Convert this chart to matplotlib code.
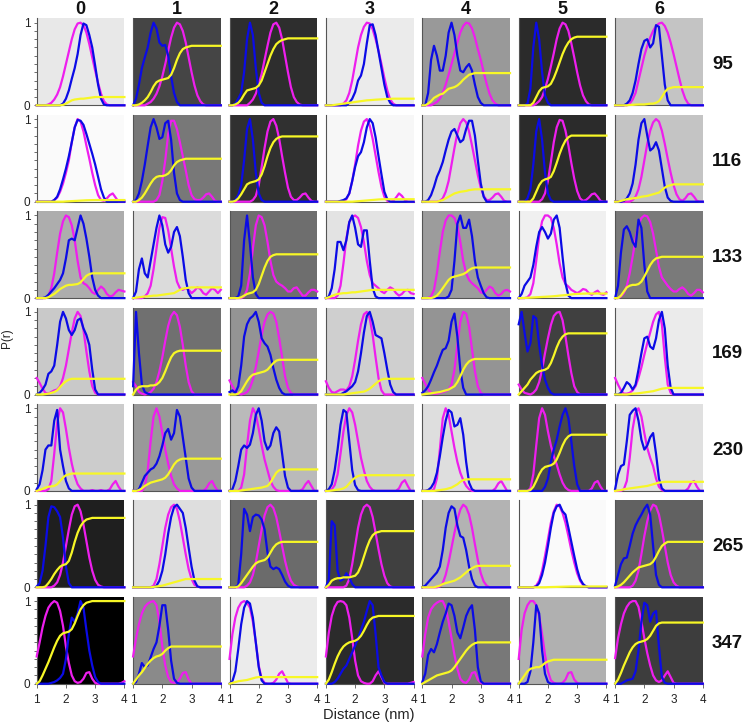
import matplotlib
matplotlib.use("Agg")
import matplotlib.pyplot as plt
from matplotlib.ticker import MultipleLocator

plt.rcParams['font.family'] = ['Liberation Sans', 'DejaVu Sans']

# ---------------- data ----------------
DIST = [1.0, 1.1, 1.2, 1.3, 1.4, 1.5, 1.6, 1.7, 1.8, 1.9, 2.0, 2.1, 2.2, 2.3, 2.4, 2.5,
        2.6, 2.7, 2.8, 2.9, 3.0, 3.1, 3.2, 3.3, 3.4, 3.5, 3.6, 3.7, 3.8, 3.9, 4.0]
COL_LABELS = ['0', '1', '2', '3', '4', '5', '6']
ROW_LABELS = ['95', '116', '133', '169', '230', '265', '347']
X_TICKS = [1, 2, 3, 4]
Y_TICKS = [0, 1]

BG_GRAY = [
    [0.91, 0.27, 0.18, 0.92, 0.60, 0.17, 0.77],
    [0.98, 0.47, 0.19, 0.97, 0.85, 0.17, 0.77],
    [0.68, 0.86, 0.43, 0.89, 0.61, 0.94, 0.48],
    [0.79, 0.44, 0.58, 0.81, 0.58, 0.25, 0.92],
    [0.80, 0.60, 0.73, 0.80, 0.87, 0.29, 0.88],
    [0.12, 0.87, 0.42, 0.25, 0.70, 0.98, 0.38],
    [0.00, 0.54, 0.92, 0.17, 0.47, 0.69, 0.24],
]

# ---- row 95 ----
MAG_95 = [
    [0,0,0,0,.01,.03,.07,.13,.22,.35,.5,.65,.8,.92,.99,1,.97,.88,.74,.58,.42,.27,.14,.05,.01,0,0,0,0,0,0],
    [0,0,0,0,0,.02,.04,.08,.14,.23,.35,.5,.66,.82,.94,1,.98,.9,.76,.58,.4,.24,.12,.05,.01,0,0,0,0,0,0],
    [0,0,0,0,0,0,0,.03,.07,.14,.25,.38,.55,.72,.88,.98,1,.94,.8,.6,.4,.22,.1,.04,.01,0,0,0,0,0,0],
    [0,0,0,0,0,0,.02,.06,.15,.3,.5,.7,.85,.95,1,.99,.92,.8,.66,.5,.33,.18,.07,.02,0,0,0,0,0,0,0],
    [0,0,0,0,.02,.04,.08,.15,.25,.37,.5,.63,.76,.88,.96,1,.99,.93,.82,.68,.55,.4,.26,.14,.06,.02,0,0,0,0,0],
    [0,0,0,0,0,0,.02,.05,.1,.2,.32,.47,.63,.8,.93,1,.98,.9,.75,.58,.4,.24,.12,.05,.01,0,0,0,0,0,0],
    [0,0,0,0,0,.02,.07,.15,.3,.45,.6,.72,.82,.9,.96,.99,1,.96,.88,.76,.62,.47,.32,.18,.08,.02,0,0,0,0,0],
]
BLUE_95 = [
    [0,0,0,0,0,0,0,0,0,.02,.08,.18,.32,.45,.62,.85,.99,.97,.85,.7,.48,.25,.08,.01,0,0,0,0,0,0,0],
    [0,.08,.25,.45,.58,.7,.88,1,.93,.76,.72,.73,.6,.35,.15,.04,0,0,0,0,0,0,0,0,0,0,0,0,0,0,0],
    [0,0,.02,.08,.15,.4,.8,1,.85,.45,.15,.03,0,0,0,0,0,0,0,0,0,0,0,0,0,0,0,0,0,0,0],
    [0,0,0,0,0,0,0,0,.03,.08,.16,.3,.36,.5,.75,.97,.98,.85,.65,.45,.25,.1,.03,0,0,0,0,0,0,0,0],
    [0,0,.15,.55,.72,.6,.42,.42,.6,.88,1,.85,.6,.42,.4,.46,.5,.42,.25,.1,.03,0,0,0,0,0,0,0,0,0,0],
    [0,0,0,.02,.2,.7,1,.8,.4,.12,.03,0,0,0,0,0,0,0,0,0,0,0,0,0,0,0,0,0,0,0,0],
    [0,0,0,0,.02,.06,.15,.3,.5,.68,.78,.8,.7,.75,.97,.95,.6,.25,.06,0,0,0,0,0,0,0,0,0,0,0,0],
]
YEL_95 = [
    [0,0,0,0,0,0,0,0,0,.005,.02,.04,.06,.07,.075,.08,.08,.085,.09,.095,.1,.1,.1,.1,.1,.1,.1,.1,.1,.1,.1],
    [0,0,.01,.03,.06,.1,.16,.23,.28,.3,.31,.32,.33,.37,.45,.55,.63,.68,.7,.71,.72,.72,.72,.72,.72,.72,.72,.72,.72,.72,.72],
    [0,0,.01,.03,.07,.13,.18,.19,.2,.21,.24,.3,.4,.5,.6,.68,.74,.77,.79,.8,.81,.81,.81,.81,.81,.81,.81,.81,.81,.81,.81],
    [0,0,0,.005,.01,.015,.02,.025,.03,.035,.04,.045,.05,.055,.06,.062,.065,.068,.07,.072,.075,.077,.078,.08,.08,.08,.08,.08,.08,.08,.08],
    [0,0,.02,.05,.09,.11,.13,.14,.17,.2,.21,.22,.24,.27,.31,.34,.37,.38,.39,.39,.39,.39,.39,.39,.39,.39,.39,.39,.39,.39,.39],
    [0,0,0,0,0,.03,.1,.17,.21,.22,.23,.26,.33,.42,.52,.62,.7,.76,.8,.82,.83,.83,.83,.83,.83,.83,.83,.83,.83,.83,.83],
    [0,0,0,0,0,.005,.005,.008,.01,.01,.01,.015,.02,.02,.03,.05,.1,.16,.2,.21,.22,.22,.22,.22,.22,.22,.22,.22,.22,.22,.22],
]

# ---- row 116 ----
MAG_116 = [
    [0,0,0,0,0,0,.02,.05,.12,.22,.35,.5,.72,.9,1,.97,.85,.68,.52,.35,.2,.08,.02,.01,.04,.08,.1,.05,0,0,0],
    [0,0,0,0,0,0,0,0,.02,.08,.25,.5,.82,.98,.98,.88,.72,.55,.38,.2,.08,.03,.02,.02,.05,.09,.1,.06,.01,0,0],
    [0,0,0,0,0,0,0,0,.02,.07,.2,.42,.65,.85,.97,1,.92,.76,.55,.35,.17,.06,.02,.02,.05,.09,.1,.05,.01,0,0],
    [0,0,0,0,0,0,0,.03,.1,.25,.45,.68,.86,.97,1,.92,.76,.56,.36,.18,.06,.01,0,.01,.05,.1,.07,.02,0,0,0],
    [0,0,0,0,0,0,.01,.04,.12,.25,.45,.65,.83,.95,1,.96,.85,.68,.5,.32,.17,.07,.02,.02,.05,.09,.1,.06,.01,0,0],
    [0,0,0,0,0,0,0,0,.03,.1,.25,.48,.72,.9,.99,.98,.86,.68,.47,.28,.13,.04,.01,.02,.05,.09,.1,.06,.01,0,0],
    [0,0,0,0,0,0,.02,.06,.15,.3,.5,.7,.86,.96,1,.97,.86,.7,.52,.35,.2,.09,.03,.01,.04,.09,.1,.06,.01,0,0],
]
BLUE_116 = [
    [0,0,0,0,0,0,.02,.06,.15,.27,.4,.55,.72,.9,.99,.98,.93,.82,.7,.58,.45,.3,.15,.05,0,0,0,0,0,0,0],
    [0,.02,.1,.25,.45,.68,.9,1,.9,.76,.78,.95,.98,.75,.35,.1,.02,0,0,0,0,0,0,0,0,0,0,0,0,0,0],
    [0,0,.02,.08,.2,.5,.88,1,.75,.35,.1,.02,0,0,0,0,0,0,0,0,0,0,0,0,0,0,0,0,0,0,0],
    [0,0,0,0,0,.01,.02,.04,.1,.25,.42,.55,.6,.72,.9,1,.95,.78,.55,.33,.12,.03,0,0,0,0,0,0,0,0,0],
    [0,0,.02,.08,.18,.3,.38,.48,.62,.75,.85,.88,.8,.72,.75,.88,.98,.98,.8,.5,.22,.06,0,0,0,0,0,0,0,0,0],
    [0,0,0,.04,.15,.45,.85,1,.75,.35,.1,.02,0,0,0,0,0,0,0,0,0,0,0,0,0,0,0,0,0,0,0],
    [0,0,0,.01,.04,.1,.22,.45,.75,.95,1,.8,.62,.65,.72,.62,.4,.18,.05,.01,0,0,0,0,0,0,0,0,0,0,0],
]
YEL_116 = [
    [0,0,0,0,0,0,0,0,0,0,.003,.005,.007,.009,.011,.013,.015,.017,.018,.019,.02,.02,.02,.02,.02,.02,.02,.02,.02,.02,.02],
    [0,0,.02,.05,.1,.16,.22,.27,.3,.31,.31,.32,.34,.38,.44,.48,.5,.51,.52,.52,.52,.52,.52,.52,.52,.52,.52,.52,.52,.52,.52],
    [0,0,.01,.04,.09,.15,.21,.23,.24,.25,.27,.33,.43,.55,.65,.72,.76,.78,.79,.79,.79,.79,.79,.79,.79,.79,.79,.79,.79,.79,.79],
    [0,0,0,0,0,0,0,0,0,0,.003,.006,.009,.012,.015,.018,.021,.024,.027,.029,.03,.03,.03,.03,.03,.03,.03,.03,.03,.03,.03],
    [0,0,0,0,0,0,.01,.02,.04,.06,.08,.1,.11,.12,.125,.13,.14,.145,.15,.15,.15,.15,.15,.15,.15,.15,.15,.15,.15,.15,.15],
    [0,0,0,0,0,.04,.12,.2,.25,.27,.28,.3,.37,.47,.58,.67,.74,.78,.8,.8,.8,.8,.8,.8,.8,.8,.8,.8,.8,.8,.8],
    [0,0,.01,.02,.03,.035,.04,.045,.05,.06,.065,.07,.08,.09,.1,.11,.14,.17,.19,.2,.21,.21,.21,.21,.21,.21,.21,.21,.21,.21,.21],
]

# ---- row 133 ----
MAG_133 = [
    [0,0,0,0,.03,.12,.3,.55,.78,.93,1,.98,.88,.7,.45,.25,.18,.16,.12,.07,.05,.1,.14,.11,.05,.02,.03,.07,.1,.09,.08],
    [0,0,0,0,.02,.06,.15,.35,.6,.85,.98,.97,.82,.6,.38,.2,.12,.1,.12,.1,.06,.09,.13,.11,.06,.04,.08,.12,.1,.06,.1],
    [0,0,0,0,0,.02,.1,.3,.6,.88,1,.98,.88,.68,.45,.28,.2,.17,.15,.12,.08,.08,.12,.13,.08,.03,.03,.07,.1,.1,.08],
    [0,0,0,0,.03,.15,.42,.72,.92,.98,1,.97,.86,.68,.45,.28,.18,.15,.12,.08,.06,.1,.13,.11,.06,.03,.05,.09,.1,.06,.05],
    [0,0,0,.02,.1,.3,.56,.8,.94,1,1,.97,.87,.68,.45,.3,.22,.18,.15,.12,.07,.06,.1,.14,.12,.06,.03,.05,.09,.1,.08],
    [0,0,0,.01,.05,.18,.45,.75,.93,1,1,.97,.85,.65,.42,.25,.17,.14,.1,.08,.06,.08,.11,.1,.06,.04,.07,.09,.05,.04,.07],
    [0,0,.02,.06,.15,.3,.5,.72,.88,.97,1,.99,.92,.78,.58,.38,.25,.2,.15,.11,.08,.08,.11,.13,.1,.05,.03,.06,.1,.1,.07],
]
BLUE_133 = [
    [0,0,0,.01,.04,.08,.12,.17,.22,.3,.48,.7,.72,.7,.85,1,.9,.72,.5,.25,.1,.03,0,0,0,0,0,0,0,0,0],
    [0,.08,.35,.48,.3,.25,.45,.65,.85,1,.88,.65,.55,.62,.8,.86,.75,.5,.22,.06,0,0,0,0,0,0,0,0,0,0,0],
    [0,0,0,.02,.15,.7,1,.65,.25,.05,0,0,0,0,0,0,0,0,0,0,0,0,0,0,0,0,0,0,0,0,0],
    [0,.02,.12,.35,.68,.68,.58,.7,.92,1,.85,.65,.62,.82,.82,.45,.12,.02,0,0,0,0,0,0,0,0,0,0,0,0,0],
    [0,0,0,0,0,0,0,0,0,.02,.1,.45,.9,1,.85,.85,.95,.75,.45,.25,.15,.06,.01,0,0,0,0,0,0,0,0],
    [0,.05,.15,.2,.25,.4,.62,.8,.86,.8,.72,.78,.95,1,.85,.5,.18,.03,0,0,0,0,0,0,0,0,0,0,0,0,0],
    [0,.15,.55,.83,.87,.8,.68,.62,.95,.85,.4,.08,0,0,0,0,0,0,0,0,0,0,0,0,0,0,0,0,0,0,0],
]
YEL_133 = [
    [0,0,0,0,.01,.03,.05,.08,.11,.13,.15,.16,.16,.165,.17,.19,.23,.27,.29,.3,.3,.3,.3,.3,.3,.3,.3,.3,.3,.3,.3],
    [0,.005,.01,.015,.02,.02,.025,.03,.03,.035,.04,.045,.05,.055,.06,.08,.1,.115,.12,.125,.13,.13,.13,.13,.13,.13,.13,.13,.13,.13,.13],
    [0,0,0,0,.01,.03,.05,.06,.07,.1,.17,.27,.37,.45,.5,.52,.53,.53,.53,.53,.53,.53,.53,.53,.53,.53,.53,.53,.53,.53,.53],
    [0,.01,.025,.04,.05,.055,.06,.06,.065,.07,.07,.075,.08,.085,.09,.095,.1,.1,.1,.1,.1,.1,.1,.1,.1,.1,.1,.1,.1,.1,.1],
    [0,0,0,0,.01,.03,.07,.12,.17,.22,.25,.26,.27,.28,.29,.31,.34,.36,.37,.37,.37,.37,.37,.37,.37,.37,.37,.37,.37,.37,.37],
    [0,0,.002,.004,.006,.008,.01,.012,.014,.016,.018,.02,.023,.026,.03,.033,.036,.04,.044,.048,.05,.052,.054,.055,.055,.055,.055,.055,.055,.055,.055],
    [0,0,.03,.08,.13,.15,.16,.16,.17,.2,.26,.33,.4,.45,.48,.49,.5,.5,.5,.5,.5,.5,.5,.5,.5,.5,.5,.5,.5,.5,.5],
]

# ---- row 169 ----
MAG_169 = [
    [.2,.14,.07,.02,.01,.03,.05,.06,.1,.2,.35,.55,.75,.92,1,.95,.78,.52,.28,.1,.02,0,0,0,0,0,0,0,0,0,0],
    [.15,.1,.03,.01,0,.01,.03,.07,.15,.28,.45,.65,.83,.95,1,.96,.82,.6,.35,.15,.04,0,0,0,0,0,0,0,0,0,0],
    [.17,.1,.04,.01,0,.01,.03,.08,.18,.33,.52,.72,.88,.97,1,.98,.88,.68,.45,.22,.08,.02,0,0,0,0,0,0,0,0,0],
    [.16,.08,.03,.02,.04,.06,.06,.05,.1,.22,.42,.65,.85,.97,1,.92,.72,.45,.2,.05,0,0,0,0,0,0,0,0,0,0,0],
    [.2,.13,.06,.02,.01,.01,.02,.03,.04,.06,.12,.3,.6,.88,1,.98,.82,.55,.28,.1,.02,0,0,0,0,0,0,0,0,0,0],
    [.12,.06,.02,.01,0,.02,.06,.15,.3,.5,.68,.84,.95,.99,1,.9,.7,.47,.26,.1,.03,0,0,0,0,0,0,0,0,0,0],
    [.2,.12,.05,.01,.01,.02,.05,.1,.2,.33,.48,.62,.75,.88,.97,1,.85,.45,.12,.02,0,0,0,0,0,0,0,0,0,0,0],
]
BLUE_169 = [
    [0,.02,.06,.12,.25,.28,.35,.6,.88,1,.92,.78,.72,.78,.9,.92,.8,.72,.6,.3,.06,0,0,0,0,0,0,0,0,0,0],
    [.1,1,.5,.12,.03,.01,0,0,0,0,0,0,0,0,0,0,0,0,0,0,0,0,0,0,0,0,0,0,0,0,0],
    [.03,.05,.02,.1,.35,.7,.85,.92,.95,1,.88,.68,.62,.58,.48,.32,.18,.08,.02,0,0,0,0,0,0,0,0,0,0,0,0],
    [0,0,0,0,0,0,.02,.04,.07,.1,.15,.28,.5,.75,.95,1,.88,.72,.7,.68,.5,.3,.12,.03,0,0,0,0,0,0,0],
    [.02,.05,.1,.18,.27,.35,.45,.54,.56,.65,.88,.98,.7,.3,.08,0,0,0,0,0,0,0,0,0,0,0,0,0,0,0,0],
    [.85,1,.75,.52,.62,.95,.92,.6,.35,.18,.08,.02,0,0,0,0,0,0,0,0,0,0,0,0,0,0,0,0,0,0,0],
    [0,0,.02,.08,.15,.12,.06,.12,.3,.5,.68,.7,.58,.55,.68,.9,1,.8,.35,.08,0,0,0,0,0,0,0,0,0,0,0],
]
YEL_169 = [
    [0,0,0,.005,.01,.02,.03,.05,.09,.13,.16,.18,.19,.19,.19,.19,.19,.19,.19,.19,.19,.19,.19,.19,.19,.19,.19,.19,.19,.19,.19],
    [0,.06,.09,.1,.1,.1,.11,.11,.12,.15,.2,.28,.37,.45,.5,.52,.53,.53,.53,.53,.53,.53,.53,.53,.53,.53,.53,.53,.53,.53,.53],
    [0,0,0,.01,.04,.1,.16,.21,.24,.25,.26,.27,.28,.3,.34,.38,.41,.42,.42,.42,.42,.42,.42,.42,.42,.42,.42,.42,.42,.42,.42],
    [0,0,0,0,0,0,0,.005,.01,.015,.02,.025,.03,.035,.05,.07,.1,.13,.16,.18,.19,.19,.19,.19,.19,.19,.19,.19,.19,.19,.19],
    [0,.005,.01,.015,.02,.025,.03,.04,.05,.06,.08,.1,.15,.22,.3,.36,.4,.42,.43,.43,.43,.43,.43,.43,.43,.43,.43,.43,.43,.43,.43],
    [0,.04,.08,.12,.18,.22,.26,.28,.29,.3,.32,.38,.47,.57,.65,.7,.73,.74,.74,.74,.74,.74,.74,.74,.74,.74,.74,.74,.74,.74,.74],
    [0,0,0,0,0,.005,.01,.012,.015,.02,.025,.03,.035,.04,.05,.06,.07,.075,.08,.08,.08,.08,.08,.08,.08,.08,.08,.08,.08,.08,.08],
]

# ---- row 230 ----
MAG_230 = [
    [0,0,0,0,.02,.12,.45,.82,1,.95,.75,.52,.33,.18,.08,.03,0,0,0,.01,0,0,.01,0,0,.02,.08,.12,.05,0,0],
    [0,0,0,0,.05,.25,.6,.9,1,.9,.7,.5,.33,.18,.08,.03,0,0,0,0,0,0,0,0,0,.03,.09,.12,.05,0,0],
    [0,0,0,0,.04,.2,.55,.85,1,.93,.75,.55,.38,.25,.12,.05,.01,0,0,0,0,0,0,0,0,.02,.08,.12,.06,0,0],
    [0,0,.02,.07,.2,.45,.72,.92,1,.95,.8,.6,.4,.25,.12,.05,.01,0,0,0,0,0,0,0,0,.03,.1,.13,.06,0,0],
    [0,0,0,0,.02,.15,.5,.88,1,.92,.72,.52,.35,.22,.13,.06,.02,0,0,0,0,0,0,0,0,.03,.09,.12,.06,0,0],
    [0,0,0,0,.03,.2,.55,.88,1,.92,.72,.55,.42,.32,.2,.1,.04,.01,0,0,0,0,0,0,0,.03,.1,.12,.05,0,0],
    [0,0,0,.02,.12,.4,.75,.95,1,.9,.7,.52,.4,.3,.15,.05,.01,0,0,0,0,0,0,0,0,.03,.1,.12,.05,0,0],
]
BLUE_230 = [
    [.02,.08,.25,.5,.55,.55,.85,.98,.5,.3,.12,.03,0,0,0,0,0,0,0,0,0,0,0,0,0,0,0,0,0,0,0],
    [0,0,.02,.1,.18,.22,.26,.28,.33,.42,.55,.7,.75,.62,.7,.98,.9,.65,.4,.15,.04,0,0,0,0,0,0,0,0,0,0],
    [0,.02,.12,.3,.5,.55,.52,.56,.7,.92,1,.85,.6,.5,.55,.7,.77,.72,.45,.18,.04,0,0,0,0,0,0,0,0,0,0],
    [0,.02,.08,.25,.5,.8,.98,.95,.6,.25,.07,.01,0,0,0,0,0,0,0,0,0,0,0,0,0,0,0,0,0,0,0],
    [0,0,.01,.04,.1,.22,.42,.65,.85,.98,.95,.78,.8,.88,.68,.35,.1,.02,0,0,0,0,0,0,0,0,0,0,0,0,0],
    [0,0,0,0,0,0,0,0,0,.05,.15,.35,.5,.62,.78,.92,1,.88,.6,.3,.08,0,0,0,0,0,0,0,0,0,0],
    [.02,.2,.3,.32,.6,.92,.97,1,.85,.62,.5,.55,.65,.7,.45,.15,.03,0,0,0,0,0,0,0,0,0,0,0,0,0,0],
]
YEL_230 = [
    [0,.01,.025,.04,.05,.055,.06,.08,.12,.16,.19,.2,.21,.21,.21,.21,.21,.21,.21,.21,.21,.21,.21,.21,.21,.21,.21,.21,.21,.21,.21],
    [0,0,.01,.03,.06,.08,.1,.11,.12,.13,.14,.16,.2,.26,.32,.36,.38,.39,.39,.39,.39,.39,.39,.39,.39,.39,.39,.39,.39,.39,.39],
    [0,0,0,0,.005,.01,.015,.02,.025,.03,.035,.04,.05,.06,.1,.16,.22,.25,.26,.26,.26,.26,.26,.26,.26,.26,.26,.26,.26,.26,.26],
    [0,0,.005,.01,.015,.02,.03,.05,.09,.13,.16,.18,.19,.19,.19,.19,.19,.19,.19,.19,.19,.19,.19,.19,.19,.19,.19,.19,.19,.19,.19],
    [0,0,0,0,0,.005,.01,.015,.02,.03,.04,.06,.08,.11,.13,.14,.14,.14,.14,.14,.14,.14,.14,.14,.14,.14,.14,.14,.14,.14,.14],
    [0,0,0,0,.01,.05,.12,.2,.26,.29,.3,.31,.33,.38,.46,.55,.62,.66,.68,.68,.68,.68,.68,.68,.68,.68,.68,.68,.68,.68,.68],
    [0,.005,.01,.02,.025,.03,.035,.04,.045,.05,.055,.06,.07,.08,.09,.1,.105,.11,.11,.11,.11,.11,.11,.11,.11,.11,.11,.11,.11,.11,.11],
]

# ---- row 265 ----
MAG_265 = [
    [0,0,0,0,0,0,.02,.06,.15,.3,.5,.7,.88,.98,1,.92,.76,.56,.36,.2,.09,.03,.01,0,0,0,0,0,0,0,0],
    [0,0,0,0,0,0,0,.02,.1,.28,.5,.72,.88,.97,1,.95,.8,.6,.4,.22,.1,.03,.01,0,0,0,0,0,0,0,0],
    [0,0,0,0,0,0,.02,.06,.15,.3,.5,.7,.87,.97,1,.96,.85,.68,.5,.32,.18,.08,.03,.01,0,0,0,0,0,0,0],
    [0,0,0,0,0,0,0,.02,.1,.28,.5,.72,.88,.97,1,.97,.85,.66,.46,.28,.14,.05,.01,0,0,0,0,0,0,0,0],
    [0,0,0,0,0,0,.01,.05,.15,.3,.48,.66,.82,.94,1,.97,.88,.72,.52,.33,.17,.07,.02,0,0,0,0,0,0,0,0],
    [0,0,0,0,0,0,.02,.08,.2,.38,.58,.78,.92,1,.98,.9,.78,.62,.45,.3,.17,.08,.03,.01,0,0,0,0,0,0,0],
    [0,0,0,0,0,0,.02,.08,.2,.4,.62,.8,.93,1,.98,.88,.7,.5,.3,.15,.06,.02,0,0,0,0,0,0,0,0,0],
]
BLUE_265 = [
    [.01,.05,.2,.5,.85,.98,.97,.92,.85,.6,.25,.05,0,0,0,0,0,0,0,0,0,0,0,0,0,0,0,0,0,0,0],
    [0,0,0,0,0,0,0,0,.02,.08,.2,.4,.65,.85,.97,1,.95,.9,.72,.48,.25,.08,.01,0,0,0,0,0,0,0,0],
    [0,0,0,.03,.4,.95,.88,.68,.85,.88,.87,.82,.7,.42,.25,.22,.24,.22,.15,.07,.02,0,0,0,0,0,0,0,0,0,0],
    [0,.1,.8,.75,.2,.08,.1,.17,.12,.04,0,0,0,0,0,0,0,0,0,0,0,0,0,0,0,0,0,0,0,0,0],
    [0,.02,.06,.1,.14,.18,.25,.45,.72,.9,.98,.95,.75,.62,.6,.45,.25,.1,.02,0,0,0,0,0,0,0,0,0,0,0,0],
    [0,0,0,0,0,0,.01,.05,.15,.3,.5,.72,.9,.98,1,.92,.88,.72,.55,.38,.22,.1,.04,.01,0,0,0,0,0,0,0],
    [.02,.15,.28,.35,.36,.5,.65,.75,.82,.88,.95,1,.88,.5,.15,.03,0,0,0,0,0,0,0,0,0,0,0,0,0,0,0],
]
YEL_265 = [
    [0,0,0,.01,.05,.1,.16,.21,.25,.27,.28,.32,.42,.55,.66,.74,.79,.82,.83,.84,.84,.84,.84,.84,.84,.84,.84,.84,.84,.84,.84],
    [0,0,0,0,0,0,0,.005,.01,.015,.02,.03,.04,.05,.06,.07,.08,.09,.1,.1,.1,.1,.1,.1,.1,.1,.1,.1,.1,.1,.1],
    [0,0,0,.01,.05,.1,.15,.2,.25,.29,.31,.32,.33,.36,.42,.48,.52,.54,.55,.55,.55,.55,.55,.55,.55,.55,.55,.55,.55,.55,.55],
    [0,.03,.08,.1,.11,.11,.12,.12,.12,.13,.14,.18,.26,.37,.48,.57,.63,.66,.67,.68,.68,.68,.68,.68,.68,.68,.68,.68,.68,.68,.68],
    [0,0,0,0,0,.01,.02,.04,.05,.06,.07,.08,.1,.12,.15,.18,.21,.23,.25,.26,.26,.26,.26,.26,.26,.26,.26,.26,.26,.26,.26],
    [0,0,0,0,0,0,0,0,0,0,.002,.003,.004,.005,.006,.007,.008,.009,.01,.01,.01,.01,.01,.01,.01,.01,.01,.01,.01,.01,.01],
    [0,.01,.03,.06,.1,.14,.18,.21,.24,.25,.26,.27,.28,.31,.37,.44,.5,.53,.55,.55,.55,.55,.55,.55,.55,.55,.55,.55,.55,.55,.55],
]

# ---- row 347 ----
MAG_347 = [
    [.33,.5,.68,.82,.92,.97,1,.98,.88,.7,.45,.25,.1,.03,.01,.02,.06,.13,.14,.06,.01,0,0,0,0,0,0,0,0,.01,.03],
    [.33,.55,.72,.85,.93,.97,.99,1,.95,.75,.45,.22,.08,.02,.01,.02,.06,.13,.14,.05,0,0,0,0,0,0,0,0,0,0,0],
    [.3,.6,.8,.92,.98,1,.98,.92,.75,.5,.22,.06,.01,0,0,.01,.05,.12,.15,.08,.01,0,0,0,0,0,0,0,0,0,0],
    [.33,.62,.82,.93,.99,1,.99,.95,.8,.55,.28,.1,.03,.01,0,0,.03,.1,.15,.08,.01,0,0,0,0,0,0,0,0,.01,.02],
    [.33,.6,.8,.9,.95,.98,1,1,.92,.75,.55,.35,.18,.06,.02,.01,.05,.13,.14,.05,.01,0,0,0,0,0,0,0,0,0,0],
    [.3,.65,.85,.95,1,1,.95,.82,.6,.35,.15,.04,.01,0,0,.01,.05,.13,.14,.05,.01,0,0,0,0,0,0,0,0,0,0],
    [.31,.55,.72,.85,.93,.98,1,1,.93,.75,.55,.37,.22,.1,.04,.02,.04,.1,.15,.08,.01,0,0,0,0,0,0,0,0,0,0],
]
BLUE_347 = [
    [0,0,0,0,0,.01,.02,.04,.07,.12,.3,.6,.8,.75,.85,1,.92,.65,.4,.22,.08,.02,0,0,0,0,0,0,0,0,0],
    [0,.02,.12,.25,.2,.22,.32,.42,.5,.7,.95,.95,.65,.28,.06,.01,0,0,0,0,0,0,0,0,0,0,0,0,0,0,0],
    [0,.03,.15,.42,.72,.92,1,.97,.8,.5,.2,.04,0,0,0,0,0,0,0,0,0,0,0,0,0,0,0,0,0,0,0],
    [0,0,0,.02,.06,.12,.18,.22,.3,.38,.46,.55,.65,.75,.88,1,.95,.6,.2,.1,.02,0,0,0,0,0,0,0,0,0,0],
    [.02,.12,.35,.42,.38,.48,.62,.75,.85,.97,.95,.82,.62,.55,.68,.82,.9,.95,.65,.2,.03,0,0,0,0,0,0,0,0,0,0],
    [0,0,0,.02,.15,.5,.95,.85,.4,.12,.02,0,0,0,0,0,0,0,0,0,0,0,0,0,0,0,0,0,0,0,0],
    [0,0,0,.02,.04,.05,.06,.15,.4,.75,.98,.95,.75,.85,.88,.45,.08,.01,0,0,0,0,0,0,0,0,0,0,0,0,0],
]
YEL_347 = [
    [0,.03,.1,.18,.26,.35,.44,.52,.58,.61,.62,.63,.66,.73,.82,.9,.95,.98,.99,1,1,1,1,1,1,1,1,1,1,1,1],
    [0,.05,.1,.14,.19,.24,.28,.31,.33,.34,.36,.4,.43,.45,.45,.45,.45,.45,.45,.45,.45,.45,.45,.45,.45,.45,.45,.45,.45,.45,.45],
    [0,.01,.02,.03,.035,.04,.045,.055,.065,.075,.08,.08,.08,.08,.08,.08,.08,.08,.08,.08,.08,.08,.08,.08,.08,.08,.08,.08,.08,.08,.08],
    [0,.05,.14,.24,.33,.4,.45,.48,.5,.51,.52,.54,.58,.64,.71,.77,.8,.81,.82,.82,.82,.82,.82,.82,.82,.82,.82,.82,.82,.82,.82],
    [0,.02,.04,.06,.08,.1,.11,.12,.13,.14,.16,.2,.25,.3,.35,.4,.44,.47,.49,.5,.5,.5,.5,.5,.5,.5,.5,.5,.5,.5,.5],
    [0,.05,.1,.15,.18,.19,.2,.2,.22,.25,.27,.28,.29,.29,.29,.29,.29,.29,.29,.29,.29,.29,.29,.29,.29,.29,.29,.29,.29,.29,.29],
    [0,.05,.13,.22,.3,.38,.44,.48,.5,.51,.52,.54,.58,.64,.7,.73,.74,.74,.74,.74,.74,.74,.74,.74,.74,.74,.74,.74,.74,.74,.74],
]

MAGENTA_ROWS = [MAG_95, MAG_116, MAG_133, MAG_169, MAG_230, MAG_265, MAG_347]
BLUE_ROWS = [BLUE_95, BLUE_116, BLUE_133, BLUE_169, BLUE_230, BLUE_265, BLUE_347]
YELLOW_ROWS = [YEL_95, YEL_116, YEL_133, YEL_169, YEL_230, YEL_265, YEL_347]

# ---------------- check ----------------
bad = []
for name, rows in (('mag', MAGENTA_ROWS), ('blue', BLUE_ROWS), ('yel', YELLOW_ROWS)):
    for r, row in enumerate(rows):
        for c, s in enumerate(row):
            if len(s) != len(DIST):
                bad.append((name, r, c, len(s)))
if bad:
    raise ValueError(str(bad))

# ---------------- layout / style ----------------
W, H = 745, 724
L0, T0 = 36.7, 18.3
PITCH_X, PITCH_Y = 96.4, 96.4
PW, PH = 87.7, 87.0
C_MAG = '#EE1EEE'
C_BLUE = '#0B0BE6'
C_YEL = '#F7F726'
LW = 1.6
SPINE_C = '#555555'

fig = plt.figure(figsize=(W / 100, H / 100), dpi=100)

for r in range(7):
    for c in range(7):
        left = L0 + c * PITCH_X
        top = T0 + r * PITCH_Y
        ax = fig.add_axes([left / W, 1 - (top + PH) / H, PW / W, PH / H])
        g = BG_GRAY[r][c]
        ax.set_facecolor((g, g, g))
        ax.plot(DIST, MAGENTA_ROWS[r][c], color=C_MAG, lw=LW, clip_on=False,
                solid_joinstyle='round', zorder=3)
        ax.plot(DIST, BLUE_ROWS[r][c], color=C_BLUE, lw=LW, clip_on=False,
                solid_joinstyle='round', zorder=4)
        ax.plot(DIST, YELLOW_ROWS[r][c], color=C_YEL, lw=LW, clip_on=False,
                solid_joinstyle='round', zorder=5)
        ax.set_xlim(1, 4)
        ax.set_ylim(0, 1.053)
        for s in ('top', 'right'):
            ax.spines[s].set_visible(False)
        for s in ('left', 'bottom'):
            ax.spines[s].set_color(SPINE_C)
            ax.spines[s].set_linewidth(0.8)
        if c == 0:
            ax.set_yticks(Y_TICKS)
            ax.set_yticklabels([str(v) for v in Y_TICKS])
            ax.yaxis.set_minor_locator(MultipleLocator(0.1))
            ax.tick_params(axis='y', which='both', direction='out', length=2.2,
                           width=0.6, color=SPINE_C, labelsize=8.5, pad=2.5,
                           labelcolor='#222222')
        else:
            ax.set_yticks([])
        if r == 6:
            ax.set_xticks(X_TICKS)
            ax.set_xticklabels([str(v) for v in X_TICKS])
            ax.tick_params(axis='x', which='both', direction='out', length=2.8,
                           width=0.6, color=SPINE_C, labelsize=8.5, pad=4.5,
                           labelcolor='#222222')
        else:
            ax.set_xticks([])

# column titles
for c, lab in enumerate(COL_LABELS):
    xc = L0 + c * PITCH_X + PW / 2
    fig.text(xc / W, 1 - 9.5 / H, lab, ha='center', va='center',
             fontsize=13, fontweight='bold', color='#111111')

# row labels
for r, lab in enumerate(ROW_LABELS):
    yc = T0 + r * PITCH_Y + PH / 2 + 3
    fig.text(712 / W, 1 - yc / H, lab, ha='left', va='center',
             fontsize=13.5, fontweight='bold', color='#111111')

fig.text(7 / W, 1 - 338 / H, 'P(r)', rotation=90, ha='center', va='center',
         fontsize=8.5, color='#222222')
fig.text(369 / W, 1 - 715 / H, 'Distance (nm)', ha='center', va='center',
         fontsize=10.5, color='#222222')

fig.savefig('out.png', dpi=100)
